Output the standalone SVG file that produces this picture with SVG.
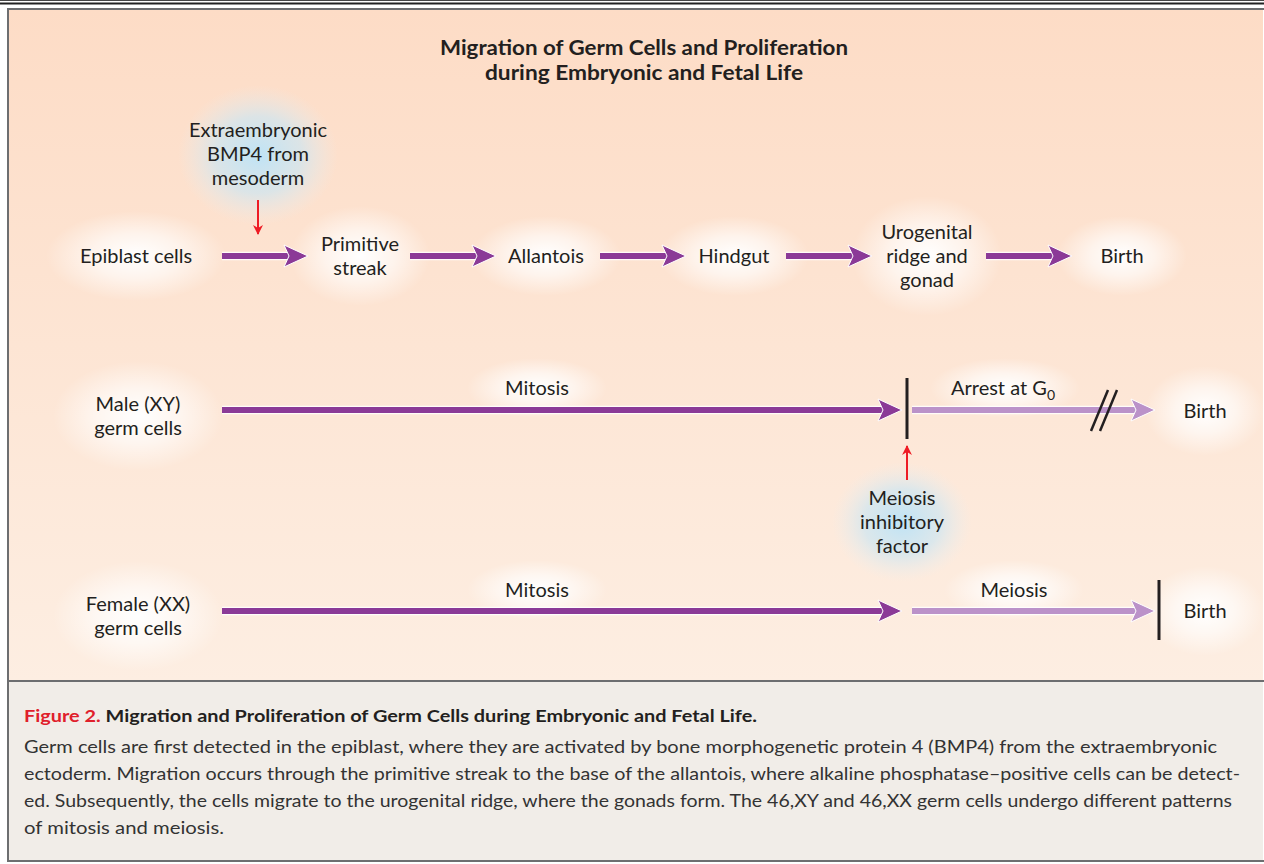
<svg xmlns="http://www.w3.org/2000/svg" width="1264" height="864" viewBox="0 0 1264 864">
<defs>
<linearGradient id="bg" x1="0" y1="0" x2="0" y2="1">
<stop offset="0" stop-color="#fddcc6"/>
<stop offset="1" stop-color="#fdeee2"/>
</linearGradient>
<radialGradient id="glow">
<stop offset="0" stop-color="#ffffff" stop-opacity="1"/>
<stop offset="0.5" stop-color="#ffffff" stop-opacity="0.6"/>
<stop offset="1" stop-color="#ffffff" stop-opacity="0"/>
</radialGradient>
<radialGradient id="blue">
<stop offset="0" stop-color="#bfe3f5" stop-opacity="1"/>
<stop offset="0.55" stop-color="#cde6f2" stop-opacity="0.7"/>
<stop offset="1" stop-color="#e8eef0" stop-opacity="0"/>
</radialGradient>
<path id="head" d="M0,0 L-24,-11 L-19,0 L-24,11 Z" stroke="#ffffff" stroke-width="1" stroke-linejoin="miter"/>
<marker id="hr" viewBox="0 0 10 10" refX="9" refY="5" markerWidth="5" markerHeight="5" orient="auto" markerUnits="strokeWidth">
<path d="M0,0 L10,5 L0,10 L3,5 Z" fill="#ee1c25"/>
</marker>
</defs>
<style>
.t{font-family:Lato,"Liberation Sans",sans-serif;font-size:20px;fill:#231f20;text-anchor:middle}
.ti{font-family:Lato,"Liberation Sans",sans-serif;font-size:20.5px;font-weight:bold;fill:#231f20;text-anchor:middle}
.c{font-family:Lato,"Liberation Sans",sans-serif;font-size:17.5px;fill:#333333}
.cb{font-family:Lato,"Liberation Sans",sans-serif;font-size:17.5px;font-weight:bold;fill:#231f20}
.ad{stroke:#8b3a97;stroke-width:6;fill:none}
.al{stroke:#bb92c9;stroke-width:6;fill:none}
.hd{fill:#8b3a97}
.hl{fill:#bb92c9}
.sh{stroke:#ffffff;stroke-width:8.5;fill:none;opacity:0.85}
.ar{stroke:#ee1c25;stroke-width:2;fill:none;marker-end:url(#hr)}
.bar{stroke:#231f20;stroke-width:3}
</style>
<rect x="0" y="0" width="1264" height="864" fill="#ffffff"/>
<line x1="0" y1="0.5" x2="1264" y2="0.5" stroke="#444" stroke-width="1"/>
<line x1="0" y1="3.5" x2="1264" y2="3.5" stroke="#222" stroke-width="2"/>
<rect x="7" y="9" width="1256" height="672" fill="url(#bg)"/>
<rect x="7" y="681" width="1256" height="180" fill="#f1ede8"/>
<path d="M8,862 V9 H1264" fill="none" stroke="#6d6e70" stroke-width="2"/>
<line x1="7" y1="681" x2="1264" y2="681" stroke="#6d6e70" stroke-width="2"/>
<line x1="7" y1="861" x2="1264" y2="861" stroke="#6d6e70" stroke-width="2"/>

<g id="glows">
<ellipse cx="136" cy="256" rx="90" ry="45" fill="url(#glow)"/>
<ellipse cx="360" cy="256" rx="70" ry="50" fill="url(#glow)"/>
<ellipse cx="546" cy="256" rx="75" ry="40" fill="url(#glow)"/>
<ellipse cx="734" cy="256" rx="75" ry="40" fill="url(#glow)"/>
<ellipse cx="927" cy="256" rx="75" ry="60" fill="url(#glow)"/>
<ellipse cx="1122" cy="256" rx="65" ry="40" fill="url(#glow)"/>
<ellipse cx="138" cy="416" rx="85" ry="55" fill="url(#glow)"/>
<ellipse cx="138" cy="616" rx="85" ry="55" fill="url(#glow)"/>
<ellipse cx="537" cy="388" rx="70" ry="30" fill="url(#glow)"/>
<ellipse cx="537" cy="590" rx="70" ry="30" fill="url(#glow)"/>
<ellipse cx="1005" cy="388" rx="75" ry="30" fill="url(#glow)"/>
<ellipse cx="1014" cy="590" rx="70" ry="30" fill="url(#glow)"/>
<ellipse cx="1205" cy="411" rx="60" ry="45" fill="url(#glow)"/>
<ellipse cx="1205" cy="611" rx="60" ry="45" fill="url(#glow)"/>
<ellipse cx="258" cy="155" rx="80" ry="70" fill="url(#blue)"/>
<ellipse cx="902" cy="522" rx="70" ry="60" fill="url(#blue)"/>
</g>

<g id="title">
<text class="ti" x="644" y="55" textLength="408" lengthAdjust="spacingAndGlyphs">Migration of Germ Cells and Proliferation</text>
<text class="ti" x="644" y="80" textLength="318" lengthAdjust="spacingAndGlyphs">during Embryonic and Fetal Life</text>
</g>

<g id="connectors">
<line class="sh" x1="222" y1="256" x2="290" y2="256"/>
<line class="ad" x1="222" y1="256" x2="290" y2="256"/>
<use href="#head" class="hd" x="308" y="256"/>
<line class="sh" x1="410" y1="256" x2="478" y2="256"/>
<line class="ad" x1="410" y1="256" x2="478" y2="256"/>
<use href="#head" class="hd" x="496" y="256"/>
<line class="sh" x1="600" y1="256" x2="668" y2="256"/>
<line class="ad" x1="600" y1="256" x2="668" y2="256"/>
<use href="#head" class="hd" x="686" y="256"/>
<line class="sh" x1="786" y1="256" x2="854" y2="256"/>
<line class="ad" x1="786" y1="256" x2="854" y2="256"/>
<use href="#head" class="hd" x="872" y="256"/>
<line class="sh" x1="986" y1="256" x2="1054" y2="256"/>
<line class="ad" x1="986" y1="256" x2="1054" y2="256"/>
<use href="#head" class="hd" x="1072" y="256"/>
<line class="ar" x1="258" y1="200" x2="258" y2="234"/>

<line class="sh" x1="222" y1="410" x2="884" y2="410"/>
<line class="ad" x1="222" y1="410" x2="884" y2="410"/>
<use href="#head" class="hd" x="902" y="410"/>
<line class="sh" x1="912" y1="410" x2="1137" y2="410"/>
<line class="al" x1="912" y1="410" x2="1137" y2="410"/>
<use href="#head" class="hl" x="1155" y="410"/>
<line class="bar" x1="907" y1="378" x2="907" y2="439"/>
<line x1="1091" y1="431" x2="1108" y2="390" stroke="#231f20" stroke-width="2.5"/>
<line x1="1100" y1="431" x2="1117" y2="390" stroke="#231f20" stroke-width="2.5"/>
<line class="ar" x1="907" y1="480" x2="907" y2="446"/>

<line class="sh" x1="222" y1="611" x2="884" y2="611"/>
<line class="ad" x1="222" y1="611" x2="884" y2="611"/>
<use href="#head" class="hd" x="902" y="611"/>
<line class="sh" x1="912" y1="611" x2="1137" y2="611"/>
<line class="al" x1="912" y1="611" x2="1137" y2="611"/>
<use href="#head" class="hl" x="1155" y="611"/>
<line class="bar" x1="1159" y1="580" x2="1159" y2="640"/>
</g>

<g id="n-bmp4"><text class="t" x="258" y="137">Extraembryonic</text><text class="t" x="258" y="161">BMP4 from</text><text class="t" x="258" y="185">mesoderm</text></g>
<g id="n-epiblast"><text class="t" x="136" y="263">Epiblast cells</text></g>
<g id="n-streak"><text class="t" x="360" y="251">Primitive</text><text class="t" x="360" y="275">streak</text></g>
<g id="n-allantois"><text class="t" x="546" y="263">Allantois</text></g>
<g id="n-hindgut"><text class="t" x="734" y="263">Hindgut</text></g>
<g id="n-urogenital"><text class="t" x="927" y="239">Urogenital</text><text class="t" x="927" y="263">ridge and</text><text class="t" x="927" y="287">gonad</text></g>
<g id="n-birth1"><text class="t" x="1122" y="263">Birth</text></g>

<g id="n-male"><text class="t" x="138" y="411">Male (XY)</text><text class="t" x="138" y="435">germ cells</text></g>
<g id="l-mitosis1"><text class="t" x="537" y="395">Mitosis</text></g>
<g id="l-arrest"><text class="t" x="1003" y="395">Arrest at G<tspan font-size="14" dy="5">0</tspan></text></g>
<g id="n-birth2"><text class="t" x="1205" y="418">Birth</text></g>
<g id="n-mif"><text class="t" x="902" y="505">Meiosis</text><text class="t" x="902" y="529">inhibitory</text><text class="t" x="902" y="553">factor</text></g>

<g id="n-female"><text class="t" x="138" y="611">Female (XX)</text><text class="t" x="138" y="635">germ cells</text></g>
<g id="l-mitosis2"><text class="t" x="537" y="597">Mitosis</text></g>
<g id="l-meiosis"><text class="t" x="1014" y="597">Meiosis</text></g>
<g id="n-birth3"><text class="t" x="1205" y="618">Birth</text></g>

<g id="caption">
<text class="cb" x="24" y="722" textLength="733" lengthAdjust="spacingAndGlyphs"><tspan fill="#e0202b">Figure 2.</tspan> Migration and Proliferation of Germ Cells during Embryonic and Fetal Life.</text>
<text class="c" x="24" y="753" textLength="1193" lengthAdjust="spacingAndGlyphs">Germ cells are first detected in the epiblast, where they are activated by bone morphogenetic protein 4 (BMP4) from the extraembryonic</text>
<text class="c" x="24" y="780" textLength="1216" lengthAdjust="spacingAndGlyphs">ectoderm. Migration occurs through the primitive streak to the base of the allantois, where alkaline phosphatase–positive cells can be detect-</text>
<text class="c" x="24" y="807" textLength="1208" lengthAdjust="spacingAndGlyphs">ed. Subsequently, the cells migrate to the urogenital ridge, where the gonads form. The 46,XY and 46,XX germ cells undergo different patterns</text>
<text class="c" x="24" y="834" textLength="200" lengthAdjust="spacingAndGlyphs">of mitosis and meiosis.</text>
</g>
</svg>
